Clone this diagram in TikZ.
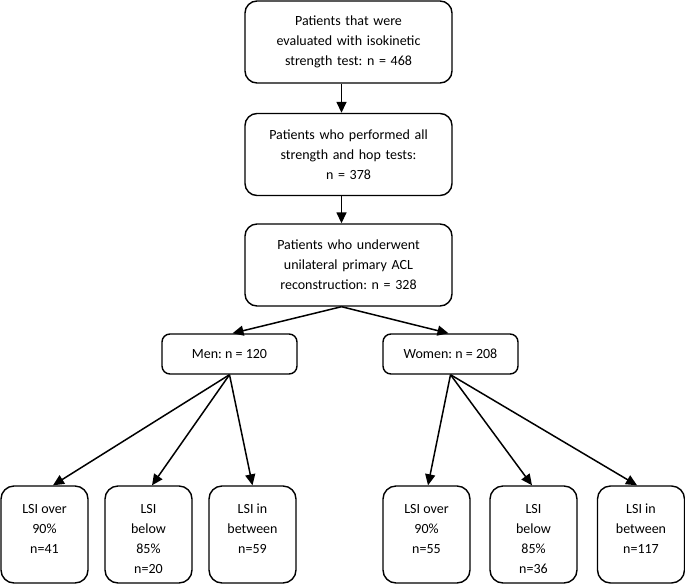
\documentclass[tikz,border=0pt]{standalone}
\usepackage{fontspec}
\setmainfont{Carlito}
\usetikzlibrary{arrows.meta}
\frenchspacing
\begin{document}
\begin{tikzpicture}[x=1pt,y=-1pt,
  font=\fontsize{14}{20}\selectfont,
  box/.style={draw=black, line width=1.4pt, rounded corners=12pt, inner sep=0pt, align=center},
  mainbox/.style={box, minimum width=207pt, minimum height=82pt, text width=190pt},
  sexbox/.style={box, rounded corners=8pt, minimum width=135pt, minimum height=40pt},
  leafbox/.style={box, rounded corners=13pt, minimum width=87pt, minimum height=97pt},
  arr/.style={line width=1.5pt, -{Triangle[length=11pt,width=10pt]}}]
\useasboundingbox (0,0) rectangle (685,584);

\node[mainbox] (b1) at (348.5,42) {Patients that were\\evaluated with isokinetic\\strength test: n = 468};
\node[mainbox] (b2) at (348.5,154.5) {Patients who performed all\\strength and hop tests:\\n = 378};
\node[mainbox] (b3) at (348.5,265) {Patients who underwent\\unilateral primary ACL\\reconstruction: n = 328};

\node[sexbox] (men) at (229.5,354) {Men: n = 120};
\node[sexbox] (women) at (450.5,354) {Women: n = 208};

\newcommand{\leaftext}[1]{\parbox[c][97pt][t]{86pt}{\centering\vspace*{13pt}\strut #1}}
\node[leafbox] (m1) at (44.5,534.5) {\leaftext{LSI over\\90\%\\n=41}};
\node[leafbox] (m2) at (148.5,534.5) {\leaftext{LSI\\below\\85\%\\n=20}};
\node[leafbox] (m3) at (252.5,534.5) {\leaftext{LSI in\\between\\n=59}};
\node[leafbox] (w1) at (426.5,534.5) {\leaftext{LSI over\\90\%\\n=55}};
\node[leafbox] (w2) at (533.5,534.5) {\leaftext{LSI\\below\\85\%\\n=36}};
\node[leafbox] (w3) at (641,534.5) {\leaftext{LSI in\\between\\n=117}};

\draw[arr] ([xshift=-7pt]b1.south) -- ([xshift=-7pt]b2.north);
\draw[arr] ([xshift=-7pt]b2.south) -- ([xshift=-7pt]b3.north);
\draw[arr] ([xshift=-7pt]b3.south) -- ([xshift=3pt]men.north);
\draw[arr] ([xshift=-7pt]b3.south) -- ([xshift=-2pt]women.north);

\draw[arr] (men.south) -- ([xshift=8.5pt]m1.north);
\draw[arr] (men.south) -- ([xshift=3.5pt]m2.north);
\draw[arr] (men.south) -- (m3.north);
\draw[arr] (women.south) -- ([xshift=1.5pt]w1.north);
\draw[arr] (women.south) -- ([xshift=-1.5pt]w2.north);
\draw[arr] (women.south) -- ([xshift=-4pt]w3.north);
\end{tikzpicture}
\end{document}
